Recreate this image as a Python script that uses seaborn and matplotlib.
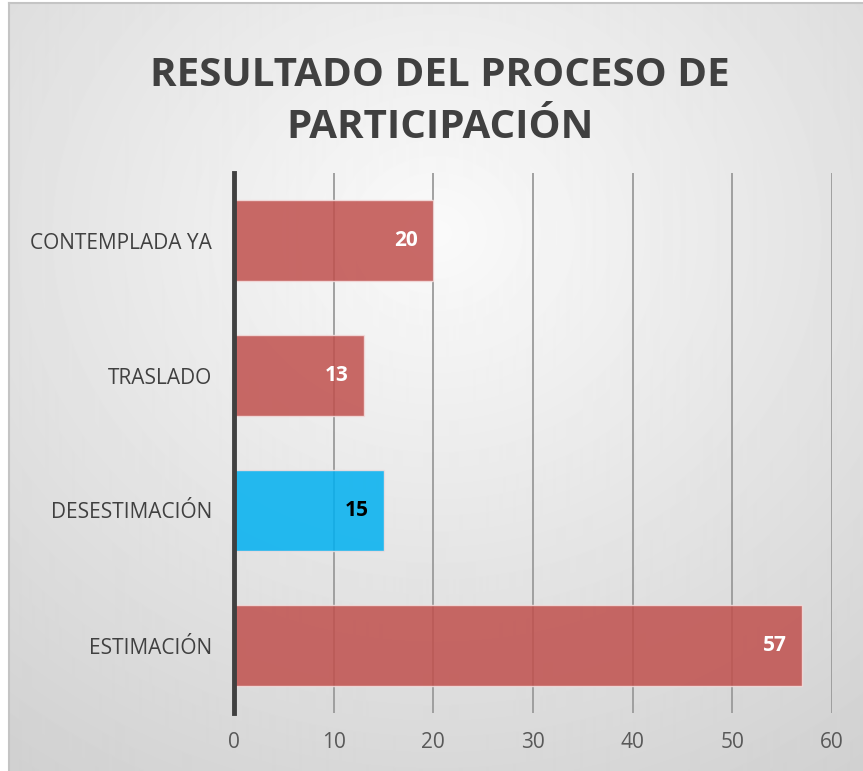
import numpy as np
import matplotlib
matplotlib.use("Agg")
import matplotlib.pyplot as plt
import seaborn as sns

# datos del gráfico
categorias = ["CONTEMPLADA YA", "TRASLADO", "DESESTIMACIÓN", "ESTIMACIÓN"]
valores = [20, 13, 15, 57]
colores = ["#C0504D", "#C0504D", "#00B0F0", "#C0504D"]
color_etiqueta = ["white", "white", "black", "white"]
ticks_x = [0, 10, 20, 30, 40, 50, 60]
titulo = "RESULTADO DEL PROCESO DE\nPARTICIPACIÓN"

sns.set_theme(style="white")
plt.rcParams["font.family"] = ["Open Sans", "DejaVu Sans"]

W, H = 863, 771
fig = plt.figure(figsize=(W / 100, H / 100), dpi=100)
fig.patch.set_facecolor("white")

# fondo con degradado radial (estilo Excel)
bg = fig.add_axes([9 / W, 0, 1 - 9 / W, 1 - 3 / H], zorder=0)
h, w = 768, 854
yy, xx = np.mgrid[0:h, 0:w]
r = np.hypot((xx - w * 0.5) / w, (yy - h * 0.3) / h)
shade = np.clip(0.98 - 0.19 * r, 0, 1)
bg.imshow(shade, cmap="gray", vmin=0, vmax=1, aspect="auto", interpolation="bilinear")
bg.set_xticks([])
bg.set_yticks([])
for side, s in bg.spines.items():
    s.set_color("#c4c4c4")
    s.set_linewidth(1.5)
    if side in ("right", "bottom"):
        s.set_visible(False)

# ejes principales
ax = fig.add_axes([234 / W, 1 - 713 / H, (832 - 234) / W, (713 - 173) / H], zorder=1)
ax.set_facecolor("none")
sns.barplot(x=valores, y=categorias, hue=categorias, palette=colores, orient="h",
            width=0.6, alpha=0.85, saturation=1, edgecolor="#f4dede", linewidth=1,
            legend=False, dodge=False, ax=ax)

ax.set_xlim(0, 60)
ax.set_xticks(ticks_x)
ax.set_xlabel("")
ax.set_ylabel("")
ax.xaxis.grid(True, color="#9a9a9a", linewidth=1.3)
ax.yaxis.grid(False)
ax.set_axisbelow(True)
for side in ["top", "right", "bottom"]:
    ax.spines[side].set_visible(False)
ax.spines["left"].set_color("#404040")
ax.spines["left"].set_linewidth(3.5)
ax.tick_params(axis="x", length=0, pad=14, labelsize=15, labelcolor="#595959")
ax.tick_params(axis="y", length=0, pad=16, labelsize=15, labelcolor="#404040")

for i, (v, c) in enumerate(zip(valores, color_etiqueta)):
    ax.annotate(str(v), xy=(v, i), xytext=(-15, 0), textcoords="offset pixels",
                ha="right", va="center", fontsize=15, fontweight="bold", color=c)

for k, linea in enumerate(titulo.split("\n")):
    fig.text(440 / W, 1 - (75 + 53 * k) / H, linea, ha="center", va="center",
             fontsize=29, fontweight="bold", color="#404040")

fig.savefig("out.png", dpi=100)
